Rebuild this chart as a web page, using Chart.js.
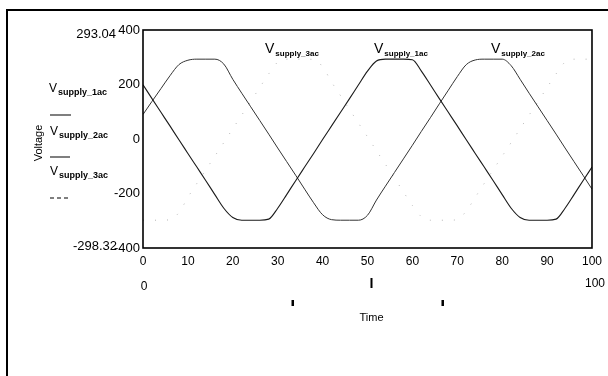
<!DOCTYPE html>
<html>
<head>
<meta charset="utf-8">
<script src="https://cdn.jsdelivr.net/npm/chart.js@4"></script>
<style>
  html, body { margin: 0; padding: 0; background: #fff; }
  canvas { display: block; }
</style>
</head>
<body>
<canvas id="grafico" width="608" height="376"></canvas>
<script>
// sample times and the three supply voltages
let tempos = [0,2,4,6,8,10,12,14,16,18,20,22,24,26,28,30,32,34,36,38,40,42,44,46,48,50,
              52,54,56,58,60,62,64,66,68,70,72,74,76,78,80,82,84,86,88,90,92,94,96,98,100];

let v1ac = [199,148,98,48,-3,-53,-103,-153,-204,-254,-288,-298,-298,-298,-294,-254,-204,-153,-103,-53,
            -2,48,98,148,199,249,286,293,293,293,291,249,199,148,98,48,-3,-53,-103,-153,
            -204,-254,-288,-298,-298,-298,-294,-254,-204,-153,-103];

let v2ac = [90,138,185,232,273,289,293,293,293,275,219,168,118,68,18,-33,-83,-133,-184,-234,
            -278,-296,-298,-298,-298,-280,-224,-173,-123,-73,-23,28,78,129,179,229,273,290,293,293,
            293,269,219,168,118,68,18,-33,-83,-133,-184];

let v3ac = [-298,-298,-298,-296,-270,-214,-163,-113,-63,-13,38,88,138,189,239,282,293,293,293,292,
            265,209,159,108,58,8,-43,-93,-143,-194,-244,-285,-298,-298,-298,-296,-264,-214,-163,-113,
            -63,-13,38,88,138,189,239,282,293,293,293];

let ticksY = [-400, -200, 0, 200, 400];
let maxLabel = "293.04";
let minLabel = "-298.32";
let cursores = [33.3, 50, 66.7];

let fonte = "Liberation Sans";

function pontos(valores) {
    return tempos.map((t, i) => ({ x: t, y: valores[i] }));
}

// V with a small subscript
function escreveV(ctx, x, y, sub, tamV, tamSub) {
    ctx.font = tamV + "px " + fonte;
    ctx.textAlign = "left";
    ctx.textBaseline = "alphabetic";
    ctx.fillText("V", x, y);
    let w = ctx.measureText("V").width;
    ctx.font = "bold " + tamSub + "px " + fonte;
    ctx.fillText(sub, x + w + 1, y + 3);
}

let enfeites = {
    id: "enfeites",
    afterDraw(chart) {
        let ctx = chart.ctx;
        let area = chart.chartArea;
        let sx = chart.scales.x;
        ctx.save();
        ctx.fillStyle = "#000";
        ctx.strokeStyle = "#000";

        // outer frame (top and left edges)
        ctx.lineWidth = 2;
        ctx.beginPath();
        ctx.moveTo(7, 376);
        ctx.lineTo(7, 10);
        ctx.lineTo(608, 10);
        ctx.stroke();

        // plot box
        ctx.lineWidth = 1.6;
        ctx.strokeRect(area.left, area.top, area.right - area.left, area.bottom - area.top);

        // series names over the plateaus
        escreveV(ctx, 265, 53, "supply_3ac", 14, 8);
        escreveV(ctx, 374, 53, "supply_1ac", 14, 8);
        escreveV(ctx, 491, 53, "supply_2ac", 14, 8);

        // legend on the left
        escreveV(ctx, 49, 92, "supply_1ac", 12, 9);
        escreveV(ctx, 50, 135, "supply_2ac", 12, 9);
        escreveV(ctx, 50, 175, "supply_3ac", 12, 9);
        ctx.lineWidth = 1.2;
        ctx.beginPath();
        ctx.moveTo(50, 115); ctx.lineTo(71, 115);
        ctx.moveTo(50, 157); ctx.lineTo(70, 157);
        ctx.stroke();
        ctx.setLineDash([4, 3]);
        ctx.beginPath();
        ctx.moveTo(50, 198); ctx.lineTo(71, 198);
        ctx.stroke();
        ctx.setLineDash([]);

        // axis name
        ctx.save();
        ctx.translate(39, 143);
        ctx.rotate(-Math.PI / 2);
        ctx.font = "11px " + fonte;
        ctx.textAlign = "center";
        ctx.textBaseline = "middle";
        ctx.fillText("Voltage", 0, 0);
        ctx.restore();

        // data extremes beside the y axis
        ctx.font = "13px " + fonte;
        ctx.textAlign = "right";
        ctx.textBaseline = "middle";
        ctx.fillText(maxLabel, 116, 34);
        ctx.fillText(minLabel, 117, 246);

        // range of the time axis
        ctx.font = "12px " + fonte;
        ctx.textAlign = "center";
        ctx.fillText("0", sx.getPixelForValue(0) + 1, 287);
        ctx.fillText("100", sx.getPixelForValue(100) + 3, 284);

        // cursor marks
        cursores.forEach((c, i) => {
            let px = sx.getPixelForValue(c);
            if (i === 1) {
                ctx.fillRect(px + 3, 278, 2, 10);
            } else {
                ctx.fillRect(px - 1, 300, 2.5, 6);
            }
        });

        ctx.font = "11px " + fonte;
        ctx.fillText("Time", sx.getPixelForValue(50) + 4, 318);

        ctx.restore();
    }
};

let ctx = document.getElementById("grafico").getContext("2d");

let grafico = new Chart(ctx, {
    type: "line",
    data: {
        datasets: [
            {
                label: "V supply_1ac",
                data: pontos(v1ac),
                borderColor: "#1a1a1a",
                borderWidth: 1.1,
                pointRadius: 0,
                cubicInterpolationMode: "monotone"
            },
            {
                label: "V supply_2ac",
                data: pontos(v2ac),
                borderColor: "#333",
                borderWidth: 1,
                pointRadius: 0,
                cubicInterpolationMode: "monotone"
            },
            {
                label: "V supply_3ac",
                data: pontos(v3ac),
                borderColor: "#b4b4b4",
                borderWidth: 1,
                borderDash: [1, 11],
                pointRadius: 0,
                cubicInterpolationMode: "monotone"
            }
        ]
    },
    options: {
        responsive: false,
        animation: false,
        layout: {
            padding: { top: 30, right: 15, left: 0, bottom: 0 }
        },
        scales: {
            x: {
                type: "linear",
                min: 0,
                max: 100,
                afterFit: s => { s.height = 128; },
                grid: { display: false, drawTicks: false },
                border: { display: false },
                ticks: {
                    stepSize: 10,
                    padding: 6,
                    color: "#000",
                    font: { family: fonte, size: 12 }
                }
            },
            y: {
                min: -400,
                max: 400,
                afterFit: s => { s.width = 143; },
                afterBuildTicks: s => { s.ticks = ticksY.map(v => ({ value: v })); },
                grid: { display: false, drawTicks: false },
                border: { display: false },
                ticks: {
                    padding: 3,
                    color: "#000",
                    font: { family: fonte, size: 13 }
                }
            }
        },
        plugins: {
            legend: { display: false },
            tooltip: { enabled: false }
        }
    },
    plugins: [enfeites]
});
</script>
</body>
</html>
